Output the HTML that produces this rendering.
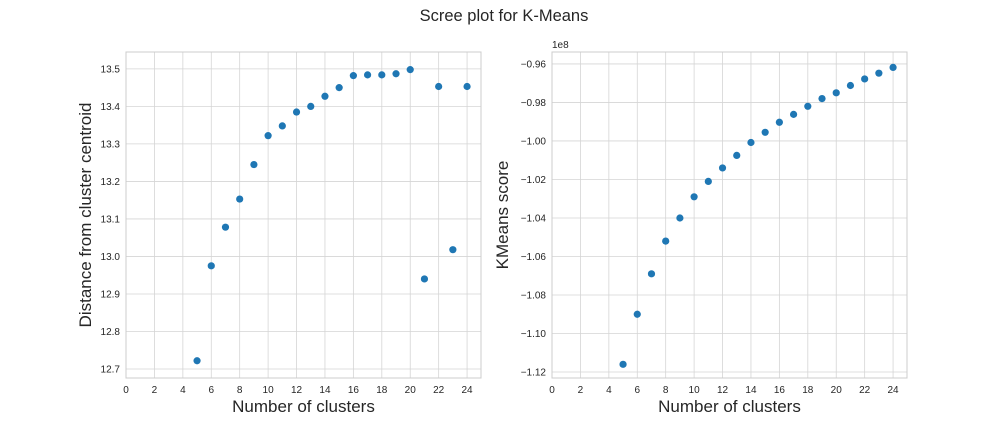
<!DOCTYPE html>
<html><head><meta charset="utf-8"><style>
body{margin:0;background:#fff;}
svg text{font-family:"Liberation Sans",sans-serif;fill:#262626;}
</style></head><body>
<svg id="c" width="1008" height="432">
<text x="504" y="21" text-anchor="middle" font-size="16.5">Scree plot for K-Means</text>
</svg>
<script>
const clustersL=[5,6,7,8,9,10,11,12,13,14,15,16,17,18,19,20,21,22,23,24];
const distanceVals=[12.722,12.975,13.078,13.153,13.245,13.322,13.348,13.385,13.400,13.427,13.450,13.482,13.484,13.484,13.487,13.498,12.940,13.453,13.018,13.453];
const clustersR=[5,6,7,8,9,10,11,12,13,14,15,16,17,18,19,20,21,22,23,24];
const scoreVals=[-1.116,-1.090,-1.069,-1.052,-1.040,-1.029,-1.021,-1.014,-1.0075,-1.0008,-0.9955,-0.9903,-0.9862,-0.9820,-0.9780,-0.9750,-0.9712,-0.9678,-0.9648,-0.9618];
const xTicks=[0,2,4,6,8,10,12,14,16,18,20,22,24];
const yTicksL=[12.7,12.8,12.9,13.0,13.1,13.2,13.3,13.4,13.5];
const yTicksR=[-1.12,-1.10,-1.08,-1.06,-1.04,-1.02,-1.00,-0.98,-0.96];
const NS='http://www.w3.org/2000/svg';
const svg=document.getElementById('c');
function mk(t,a){const e=document.createElementNS(NS,t);for(const k in a)e.setAttribute(k,a[k]);svg.appendChild(e);return e;}
function panel(o){
 const {x0,x1,y0,y1,xmin,xmax,ymin,ymax,xs,ys,yt,dec,ylabel,id,yoff}=o;
 const sx=v=>x0+(v-xmin)/(xmax-xmin)*(x1-x0);
 const sy=v=>y1-(v-ymin)/(ymax-ymin)*(y1-y0);
 const bg=mk('rect',{x:x0,y:y0,width:x1-x0,height:y1-y0,fill:'#fff'});
 
 
 xTicks.forEach(t=>{
  const l=mk('line',{x1:sx(t),x2:sx(t),y1:y0,y2:y1,stroke:'#d5d5d5','stroke-width':0.8});
  
  
  const tx=mk('text',{x:sx(t),y:y1+15,'font-size':10,'text-anchor':'middle'});
  tx.textContent=t;
  
  
 });
 yt.forEach(t=>{
  const l=mk('line',{x1:x0,x2:x1,y1:sy(t),y2:sy(t),stroke:'#d5d5d5','stroke-width':0.8});
  
  
  const tx=mk('text',{x:x0-6,y:sy(t)+3.5,'font-size':10,'text-anchor':'end'});
  tx.textContent=t.toFixed(dec).replace('-','\u2212');
  
  
 });
 const fr=mk('rect',{x:x0,y:y0,width:x1-x0,height:y1-y0,fill:'none',stroke:'#cccccc','stroke-width':1});
 
 
 xs.forEach((v,i)=>{
  const c=mk('circle',{cx:sx(v),cy:sy(ys[i]),r:3.6,fill:'#1f77b4'});
  
  
 });
 const xl=mk('text',{x:(x0+x1)/2,y:y1+34,'font-size':17,'text-anchor':'middle'});
 xl.textContent='Number of clusters';
 
 
 const cx=x0-yoff, cy=(y0+y1)/2;
 const yl=mk('text',{x:cx,y:cy,'font-size':17,'text-anchor':'middle',transform:`rotate(-90 ${cx} ${cy})`});
 yl.textContent=ylabel;
 
 
}
panel({id:'left',yoff:35,x0:126,x1:481,y0:52,y1:378,xmin:0,xmax:24.98,ymin:12.676,ymax:13.545,xs:clustersL,ys:distanceVals,yt:yTicksL,dec:1,ylabel:'Distance from cluster centroid'});
panel({id:'right',yoff:44,x0:552,x1:907,y0:52,y1:378,xmin:0,xmax:24.98,ymin:-1.1231,ymax:-0.9538,xs:clustersR,ys:scoreVals,yt:yTicksR,dec:2,ylabel:'KMeans score'});
const off=mk('text',{x:552,y:48,'font-size':10});
off.textContent='1e8';


</script>
</body></html>
